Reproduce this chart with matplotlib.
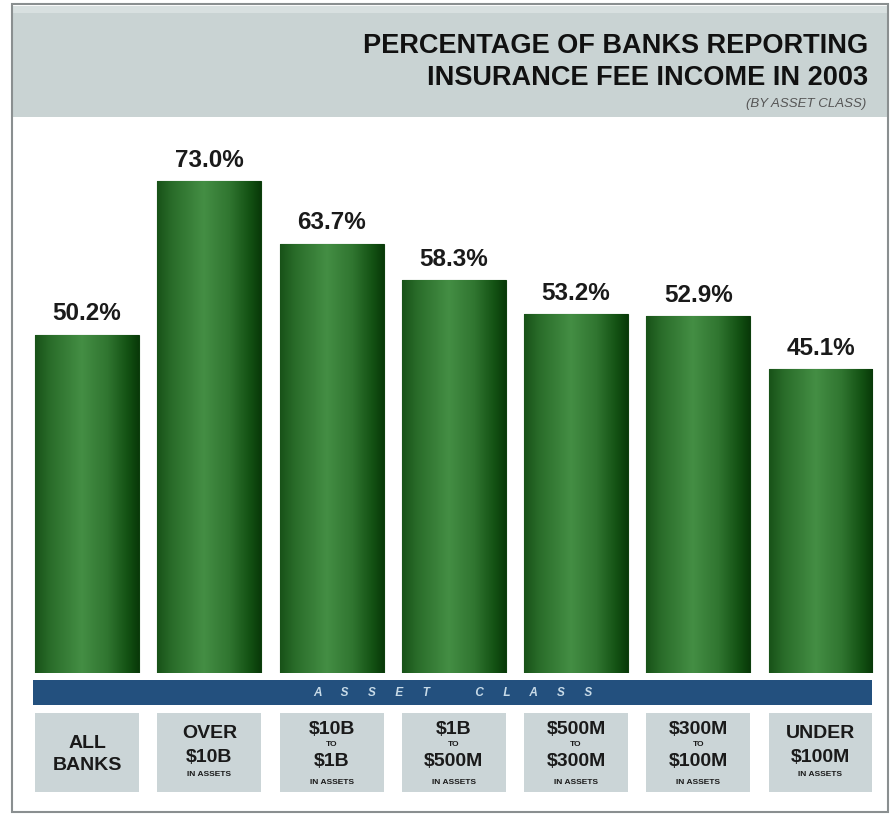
import matplotlib

matplotlib.use("Agg")

import matplotlib.pyplot as plt
import numpy as np
from matplotlib.colors import LinearSegmentedColormap
from matplotlib.patches import Rectangle
from matplotlib.transforms import blended_transform_factory

categories = ["ALL BANKS", "OVER $10B", "$10B TO $1B", "$1B TO $500M",
              "$500M TO $300M", "$300M TO $100M", "UNDER $100M"]
values = [50.2, 73.0, 63.7, 58.3, 53.2, 52.9, 45.1]
label_lines = [
    ["ALL", "BANKS"],
    ["OVER", "$10B", "IN ASSETS"],
    ["$10B", "TO", "$1B", "IN ASSETS"],
    ["$1B", "TO", "$500M", "IN ASSETS"],
    ["$500M", "TO", "$300M", "IN ASSETS"],
    ["$300M", "TO", "$100M", "IN ASSETS"],
    ["UNDER", "$100M", "IN ASSETS"],
]
title_lines = ["PERCENTAGE OF BANKS REPORTING", "INSURANCE FEE INCOME IN 2003"]
subtitle = "(BY ASSET CLASS)"
band_text = "A      S      S      E      T              C      L      A      S      S"

FONT = ["Liberation Sans Narrow", "Liberation Sans", "DejaVu Sans"]
W, H = 895, 815


def fy(py):
    # pixel row from top -> figure fraction
    return (H - py) / H


fig = plt.figure(figsize=(W / 100, H / 100), dpi=100)
fig.patch.set_facecolor("white")

# outer frame and header band
fig.patches.append(Rectangle((12 / W, fy(812)), 876 / W, 808 / H, transform=fig.transFigure,
                             facecolor="none", edgecolor="#8a8f90", linewidth=1.5, zorder=3))
fig.patches.append(Rectangle((13 / W, fy(117)), 874 / W, 111 / H, transform=fig.transFigure,
                             facecolor="#c9d3d3", edgecolor="none", zorder=1))
fig.patches.append(Rectangle((13 / W, fy(13)), 874 / W, 7 / H, transform=fig.transFigure,
                             facecolor="#d8e0e0", edgecolor="none", zorder=1))

fig.text(868 / W, fy(46), title_lines[0], ha="right", va="center", fontsize=19.5,
         fontweight="bold", family=FONT, color="#111111")
fig.text(868 / W, fy(78), title_lines[1], ha="right", va="center", fontsize=19.5,
         fontweight="bold", family=FONT, color="#111111")
fig.text(866 / W, fy(104), subtitle, ha="right", va="center", fontsize=9.5,
         style="italic", family=FONT, color="#555555")

ax = fig.add_axes([26 / W, fy(673), 855.6 / W, (673 - 133.8) / H])
ax.set_xlim(-0.5, 6.5)
ax.set_ylim(0, 80)
ax.axis("off")

x = np.arange(len(values))
bars = ax.bar(x, values, width=0.85, color="#2c6e2c", edgecolor="#0d3f0d", linewidth=0.8,
              zorder=1)

green = LinearSegmentedColormap.from_list(
    "bar_green",
    [(0.0, "#185218"), (0.15, "#2a6d2a"), (0.45, "#448e44"), (0.7, "#307530"),
     (0.9, "#125012"), (1.0, "#093909")],
)
grad = np.linspace(0, 1, 256).reshape(1, -1)
for bar, val in zip(bars, values):
    x0 = bar.get_x()
    x1 = x0 + bar.get_width()
    img = ax.imshow(grad, cmap=green, aspect="auto", extent=(x0, x1, 0, val),
                    interpolation="bilinear", zorder=2)
    img.set_clip_path(bar)
    ax.text(bar.get_x() + bar.get_width() / 2, val + 1.4, f"{val:.1f}%", ha="center",
            va="bottom", fontsize=17.5, fontweight="bold", family=FONT, color="#1a1a1a")
ax.set_xlim(-0.5, 6.5)
ax.set_ylim(0, 80)

trans = blended_transform_factory(ax.transData, fig.transFigure)

# asset class band
left = bars[0].get_x() - 0.02
right = bars[-1].get_x() + bars[-1].get_width()
fig.patches.append(Rectangle((left, fy(705)), right - left, 25 / H, transform=trans,
                             facecolor="#23507e", edgecolor="none", zorder=1))
fig.text((left + right) / 2, fy(692.5), band_text, transform=trans, ha="center",
         va="center", fontsize=8.5, fontweight="bold", style="italic", family=FONT,
         color="#c8dbe8")

# category boxes
layouts = {
    2: [743, 766],
    3: [734, 757, 775],
    4: [729, 745, 762, 783],
}
for bar, lines in zip(bars, label_lines):
    fig.patches.append(Rectangle((bar.get_x(), fy(792)), bar.get_width(), 79 / H,
                                 transform=trans, facecolor="#cbd5d7", edgecolor="none",
                                 zorder=1))
    cx = bar.get_x() + bar.get_width() / 2
    for line, py in zip(lines, layouts[len(lines)]):
        small = line in ("TO", "IN ASSETS")
        fig.text(cx, fy(py), line, transform=trans, ha="center", va="center",
                 fontsize=6 if small else 14, fontweight="bold", family=FONT,
                 color="#1a1a1a")

fig.savefig("out.png", dpi=100)
plt.close(fig)
